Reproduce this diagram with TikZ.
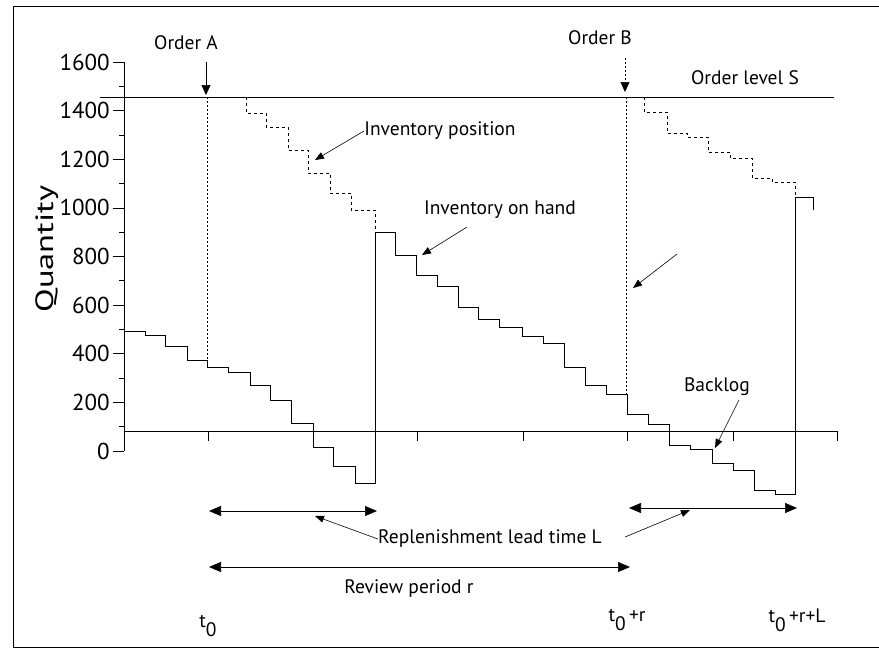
\documentclass[tikz,border=0pt]{standalone}
\usepackage{fontspec}
\setmainfont{PT Sans}
\usetikzlibrary{arrows.meta}
\begin{document}
\begin{tikzpicture}[x=1pt,y=-1pt,line width=0.7pt,
  lbl/.style={font=\fontsize{19.5}{23}\selectfont,inner sep=0pt},
  tlbl/.style={font=\fontsize{23}{27}\selectfont,inner sep=0pt,anchor=east},
  span/.style={line width=0.6pt,{Triangle[length=12pt,width=10pt]}-{Triangle[length=12pt,width=10pt]}},
  ptr/.style={line width=0.6pt,-{Triangle[length=9pt,width=7pt]}},
  ordline/.style={line width=0.6pt,dash pattern=on 2pt off 2pt},
  posline/.style={line width=0.6pt,dash pattern=on 3pt off 3pt}]
\useasboundingbox (0,0) rectangle (879,649);
% frame
\draw[line width=0.8pt] (879,6) -- (13,6) -- (13,647) -- (879,647);
% y axis
\draw (124,62) -- (124,451);
\foreach \k in {0,...,8}{
  \pgfmathsetmacro\yy{451-48.625*\k}
  \pgfmathtruncatemacro\lab{200*\k}
  \draw (113,\yy) -- (124,\yy);
  \node[tlbl] (ytick\k) at (110,\yy) {\lab};
}
\foreach \k in {0,...,7}{
  \pgfmathsetmacro\yy{451-48.625*(\k+0.5)}
  \draw (119,\yy) -- (124,\yy);
}
\node[font=\fontsize{25}{30}\selectfont,rotate=90,inner sep=0pt] (qty) at (47,249) {\scalebox{1.38}[1]{Quantity}};
% x axis
\draw (124,431) -- (837,431);
\foreach \x in {208,313,417,523,627,733,837}{ \draw (\x,431) -- (\x,441); }
% order level S
\draw (100,97) -- (834,97);
\node[lbl] (lvl) at (745,78) {Order level S};
% orders
\node[lbl] (orda) at (186,43) {Order A};
\node[lbl] (ordb) at (600,38) {Order B};
\coordinate (oa) at (206,62);
\coordinate (oaend) at (206,95);
\coordinate (ob) at (625,58);
\coordinate (obend) at (625,92);
\draw[-{Triangle[length=10pt,width=9pt]},line width=0.6pt] (oa) -- (oaend);
\draw[ordline,-{Triangle[length=10pt,width=9pt]}] (ob) -- (obend);
\draw[ordline] (207,97) -- (207,367);
\draw[ordline] (626,97) -- (626,394);
% inventory position (dashed)
\draw[posline] (246,97) -- (246,113) -| (266,127) -| (288,150) -| (308,173) -| (330,193) -| (351,210) -| (375,232);
\draw[posline] (644,97) -- (644,112) -| (667,133) -| (687,137) -| (708,152) -| (730,158) -| (752,178) -| (772,182) -| (795,197);
% inventory on hand
\draw[line width=0.8pt] (124,331) -| (145,335) -| (165,346) -| (187,360) -| (207,367) -| (228,372) -| (250,385) -| (270,400) -| (291,423) -| (313,447) -| (333,466) -| (355,483) -| (375,232) -| (395,255) -| (416,275) -| (437,286) -| (458,307) -| (478,319) -| (499,327) -| (522,336) -| (543,343) -| (564,367) -| (585,385) -| (606,394) -| (627,414) -| (648,424) -| (669,445) -| (690,449) -| (712,463) -| (733,470) -| (754,490) -| (775,494) -| (795,197) -| (813,210);
% labels with pointers
\node[lbl,anchor=west] (ipos) at (364,131) {Inventory position};
\draw[ptr] (ipos.west) -- (315,160);
\node[lbl] (ionh) at (500,210) {Inventory on hand};
\coordinate (ionhs) at (467,227);
\draw[ptr] (ionhs) -- (422,255);
\coordinate (fa) at (677,254);
\coordinate (fb) at (633,288);
\draw[ptr] (fa) -- (fb);
\node[lbl] (back) at (717,387) {Backlog};
\coordinate (backs) at (739,400);
\draw[ptr] (backs) -- (715,448);
% spans
\coordinate (l1a) at (209,511);
\coordinate (l1b) at (377,511);
\coordinate (l2a) at (629,508);
\coordinate (l2b) at (797,508);
\coordinate (ra) at (209,567);
\coordinate (rb) at (630,567);
\draw[span] (l1a) -- (l1b);
\draw[span] (l2a) -- (l2b);
\draw[span] (ra) -- (rb);
\node[lbl] (rep) at (490,539) {Replenishment lead time L};
\coordinate (reps) at (625,537);
\draw[ptr] (rep.west) -- (315,516);
\draw[ptr] (reps) -- (690,510);
\node[lbl] (rev) at (409,589) {Review period r};
% time labels
\node[lbl] (t0) at (208,626) {t\raisebox{-0.9ex}{0}};
\node[lbl] (t0r) at (627,620) {t\raisebox{-0.9ex}{0}\,+r};
\node[lbl] (t0rl) at (797,620) {t\raisebox{-0.9ex}{0}\,+r+L};
\end{tikzpicture}
\end{document}
